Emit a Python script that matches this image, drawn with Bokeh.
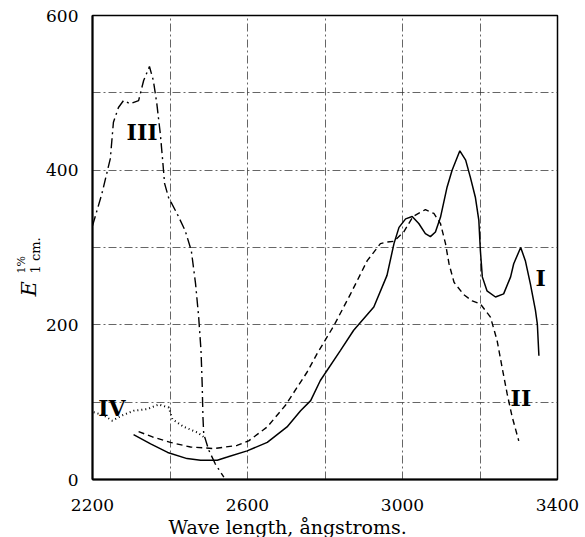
import numpy as np
from bokeh.plotting import figure
from bokeh.layouts import row
from bokeh.models import Label, FixedTicker, Range1d, Title
from bokeh.embed import file_html
from bokeh.resources import INLINE

# Curve I (solid)
c1_x = [2306, 2350, 2394, 2444, 2479, 2522, 2548, 2599, 2651, 2702, 2737, 2763, 2788,
        2840, 2874, 2926, 2960, 2978, 2991, 3008, 3025, 3042, 3059, 3072, 3085, 3098,
        3115, 3128, 3148, 3163, 3175, 3188, 3197, 3201, 3206, 3218, 3240, 3261, 3279,
        3287, 3305, 3317, 3330, 3343, 3348, 3352]
c1_y = [58, 46, 35, 27, 25, 25, 29, 37, 48, 68, 89, 102, 128,
        167, 193, 223, 264, 305, 326, 337, 340, 331, 318, 314, 320, 339,
        378, 400, 425, 413, 391, 365, 335, 296, 262, 244, 236, 240, 262,
        279, 300, 283, 253, 219, 201, 160]

# Curve II (dashed)
c2_x = [2319, 2355, 2401, 2453, 2513, 2573, 2603, 2651, 2698, 2754, 2780, 2823, 2866,
        2909, 2943, 2960, 2978, 3003, 3027, 3059, 3081, 3098, 3111, 3120, 3133, 3158,
        3180, 3201, 3227, 3244, 3257, 3270, 3283, 3300]
c2_y = [62, 55, 48, 42, 40, 44, 50, 68, 96, 139, 163, 199, 240,
        283, 305, 307, 308, 320, 340, 349, 344, 331, 305, 279, 255, 239,
        231, 227, 210, 180, 145, 111, 81, 50]

# Curve III (dash-dot)
c3_x = [2200, 2224, 2246, 2254, 2267, 2280, 2297, 2319, 2332, 2347, 2357, 2366, 2375,
        2381, 2386, 2396, 2418, 2439, 2455, 2466, 2474, 2480, 2483, 2485, 2487, 2500,
        2517, 2539]
c3_y = [328, 369, 415, 462, 481, 490, 486, 490, 516, 534, 516, 486, 447,
        413, 383, 365, 344, 322, 296, 253, 210, 167, 124, 81, 59, 38,
        20, 3]

# Curve IV (dotted)
c4_x = [2203, 2229, 2251, 2277, 2307, 2341, 2371, 2397, 2406, 2436, 2470, 2487]
c4_y = [87, 83, 76, 83, 89, 91, 97, 93, 78, 68, 61, 55]

curve_names = ["I", "II", "III", "IV"]
name_x = [3343, 3279, 2288, 2215]
name_y = [260, 105, 449, 93]

x_ticks = [2200, 2600, 3000, 3400]
y_ticks = [0, 200, 400, 600]
x_grid = [2400, 2600, 2800, 3000, 3200]
y_grid = [100, 200, 300, 400, 500]

SERIF = "DejaVu Serif"
H = 537
YW = 42  # width of the strip that holds the y-axis title

p = figure(output_backend="svg", toolbar_location=None,
           frame_width=465, frame_height=464,
           min_border_left=92 - YW, min_border_right=28, min_border_top=15,
           min_border_bottom=58,
           x_range=Range1d(2200, 3400), y_range=Range1d(0, 600),
           background_fill_color="white", border_fill_color="white")

p.outline_line_color = "black"
p.outline_line_width = 1.5

p.xaxis.ticker = FixedTicker(ticks=x_ticks)
p.yaxis.ticker = FixedTicker(ticks=y_ticks)
p.xgrid.ticker = FixedTicker(ticks=x_grid)
p.ygrid.ticker = FixedTicker(ticks=y_grid)
for g in (p.xgrid, p.ygrid):
    g.grid_line_color = "#333333"
    g.grid_line_width = 1
    g.grid_line_dash = "8 3 2 3"
    g.grid_line_alpha = 0.75

for ax in (p.xaxis, p.yaxis):
    ax.axis_line_color = "black"
    ax.axis_line_width = 2
    ax.major_tick_line_color = None
    ax.minor_tick_line_color = None
    ax.major_label_text_font = SERIF
    ax.major_label_text_font_size = "17px"
    ax.major_label_text_color = "black"

p.yaxis.major_label_standoff = 8
p.xaxis.major_label_standoff = 13

p.line(c1_x, c1_y, line_color="black", line_width=1.5)
p.line(c2_x, c2_y, line_color="black", line_width=1.4, line_dash="6 4")
p.line(c3_x, c3_y, line_color="black", line_width=1.4, line_dash="10 4 2 4")
p.line(c4_x, c4_y, line_color="black", line_width=2, line_dash="1 3")

for name, lx, ly in zip(curve_names, name_x, name_y):
    p.add_layout(Label(x=lx, y=ly, text=name, text_font=SERIF, text_font_size="22px",
                       text_font_style="bold", text_color="black",
                       text_baseline="alphabetic", text_align="left"))

# x-axis title, shifted left like the reference
p.add_layout(Title(text="Wave length, \u00e5ngstroms.", align="left", offset=76,
                   text_font=SERIF, text_font_size="19px", text_font_style="normal",
                   text_color="black", standoff=0), "below")

# narrow strip on the left that carries the y-axis title E^{1%}_{1 cm.}
q = figure(output_backend="svg", toolbar_location=None,
           frame_width=YW, frame_height=H, min_border=0,
           x_range=Range1d(0, YW), y_range=Range1d(0, H),
           background_fill_color="white", border_fill_color="white")
q.axis.visible = False
q.grid.visible = False
q.outline_line_color = None
q.add_layout(Label(x=28, y=H - 281, text="E", angle=np.pi / 2, text_font=SERIF,
                   text_font_size="21px", text_font_style="italic", text_color="black",
                   text_baseline="alphabetic", text_align="left"))
q.add_layout(Label(x=21, y=H - 258, text="1%", angle=np.pi / 2, text_font=SERIF,
                   text_font_size="11px", text_color="black",
                   text_baseline="alphabetic", text_align="left"))
q.add_layout(Label(x=35, y=H - 258, text="1 cm.", angle=np.pi / 2, text_font=SERIF,
                   text_font_size="13px", text_color="black",
                   text_baseline="alphabetic", text_align="left"))

layout = row(q, p, spacing=0)
open("out.html", "w").write(file_html(layout, INLINE))
